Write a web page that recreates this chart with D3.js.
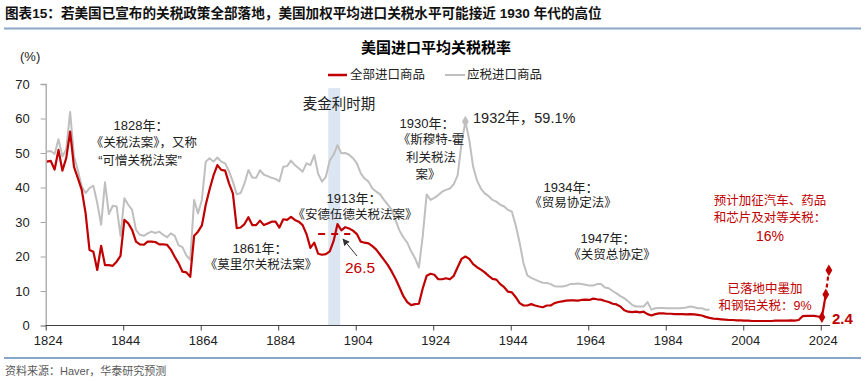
<!DOCTYPE html>
<html><head><meta charset="utf-8">
<script src="https://cdn.jsdelivr.net/npm/d3@7"></script>
<style>
html,body{margin:0;padding:0;background:#fff;}
svg{display:block;}
</style></head>
<body>
<svg id="c" width="865" height="381"></svg>
<script>
// ---------- DATA ----------
const startYear = 1824;
// 全部进口商品 (all imports), 1824..2024
const allImports = [
 47.5,47.7,45.2,50.9,44.9,48.5,56.2,46.0,42.7,39.3,
 32.5,21.9,21.4,16.1,23.1,17.5,17.5,17.3,18.5,20.2,
 30.6,29.6,27.7,24.3,23.5,23.4,24.3,24.3,24.2,23.5,
 23.5,23.4,22.0,19.9,18.0,15.6,15.4,14.1,26.0,27.2,
 29.0,35.0,39.5,43.5,46.5,45.1,44.9,41.2,38.3,28.2,
 28.4,29.4,31.4,29.1,29.1,30.4,29.1,29.6,30.1,30.1,
 28.4,30.8,30.6,31.5,30.6,30.1,29.1,26.5,22.5,24.0,
 20.8,20.5,20.7,21.5,24.5,29.4,27.6,28.5,28.1,27.5,
 26.5,24.3,24.0,23.8,23.0,22.0,20.5,19.0,17.5,15.6,
 13.5,11.0,8.5,6.8,5.9,6.2,6.3,10.8,14.4,15.0,
 14.7,13.4,13.4,13.7,13.4,14.4,16.9,19.3,20.0,19.3,
 17.8,16.9,16.2,15.4,14.4,13.5,13.3,12.0,11.1,9.8,
 9.6,8.2,6.5,5.8,5.8,6.2,5.8,5.5,5.3,5.8,
 5.8,6.5,6.8,7.0,7.2,7.3,7.3,7.2,7.4,7.5,
 7.4,7.8,7.6,7.5,7.1,6.8,6.3,6.1,5.5,4.4,
 4.0,3.9,4.0,3.8,4.0,3.3,2.9,3.3,3.5,3.5,
 3.4,3.4,3.3,3.3,3.3,3.2,3.3,3.2,3.1,2.9,
 2.5,2.2,2.0,1.9,1.8,1.7,1.6,1.6,1.5,1.5,
 1.4,1.4,1.3,1.3,1.3,1.3,1.3,1.3,1.4,1.4,
 1.4,1.4,1.5,1.4,1.6,2.7,2.8,2.8,2.8,2.6,
 2.4
];
// 应税进口商品 (dutiable imports), 1824..1995
const dutiable = [
 50.4,50.6,49.7,54.0,49.0,51.0,61.9,49.0,45.0,40.3,
 38.4,39.8,40.5,35.5,29.2,41.5,32.3,34.7,34.5,26.0,
 36.9,35.0,33.5,27.7,26.3,26.0,26.7,27.2,26.8,27.2,
 26.3,25.6,26.7,26.0,23.2,22.7,20.3,19.0,36.4,32.5,
 36.4,47.5,48.5,47.5,48.7,47.5,47.0,44.7,41.7,38.0,
 38.4,41.2,45.1,42.9,42.8,45.0,43.7,43.3,42.8,42.5,
 41.8,46.0,46.2,47.8,46.5,45.6,44.6,47.0,46.5,49.4,
 44.0,41.7,43.1,47.9,49.5,52.3,49.9,50.0,49.5,48.5,
 47.0,44.1,42.6,41.7,39.7,38.8,38.0,36.4,35.0,33.5,
 30.5,27.5,25.5,24.0,21.5,19.5,16.8,26.0,38.0,36.4,
 37.0,37.8,38.8,39.3,39.7,41.0,43.5,52.8,59.1,53.8,
 46.0,42.0,39.7,38.3,37.5,36.4,35.9,35.0,34.5,33.5,
 33.0,29.0,24.0,18.0,14.5,13.8,13.3,12.8,12.4,12.3,
 12.0,11.4,11.3,11.3,11.5,12.0,12.0,12.2,12.0,11.8,
 11.6,11.6,12.0,12.0,11.0,10.8,10.0,9.3,8.5,7.9,
 7.0,6.0,5.5,5.5,5.5,6.8,4.6,5.0,5.1,5.1,
 5.0,5.0,5.0,5.0,5.1,5.2,5.5,5.3,5.0,5.0,
 4.6,4.6
];
const projYears = [2024, 2025, 2025.8];
const projValues = [2.4, 9, 16];
const mckinley = [1896.9, 1900];
const underwoodLevel = 26.5;
const underwoodSpan = [1894.3, 1902.6];
const peakYear = 1932, peakValue = 59.1;
const yTicks = [0,10,20,30,40,50,60,70];
const xTicks = d3.range(1824, 2025, 20);
const legendLabels = ["全部进口商品","应税进口商品"];

// ---------- SETUP ----------
const svg = d3.select("#c");
const RED = "#c00000", GREY = "#bfbfbf";
const FONT = "'Liberation Sans','Noto Sans CJK SC',sans-serif";
const CJK = "'Liberation Sans','Noto Sans CJK SC',sans-serif";
const x = d3.scaleLinear().domain([1824, 2026]).range([45.7, 828.5]);
const y = d3.scaleLinear().domain([0, 70]).range([325.5, 84]);
const OFF = 0.3;

// header
svg.append("text").attr("x",5).attr("y",13).attr("dominant-baseline","central")
  .attr("font-family",FONT).attr("font-weight","bold").attr("font-size",13.6).attr("fill","#111")
  .text("图表15：若美国已宣布的关税政策全部落地，美国加权平均进口关税水平可能接近 1930 年代的高位");
svg.append("line").attr("x1",4).attr("x2",861).attr("y1",28.5).attr("y2",28.5)
  .attr("stroke","#8aa6c8").attr("stroke-width",2);
svg.append("line").attr("x1",4).attr("x2",861).attr("y1",358).attr("y2",358)
  .attr("stroke","#8aa6c8").attr("stroke-width",2);
svg.append("text").attr("x",5).attr("y",371).attr("dominant-baseline","central")
  .attr("font-family",FONT).attr("font-size",11).attr("fill","#595959")
  .text("资料来源：Haver，华泰研究预测");

// chart title
svg.append("text").attr("x",436).attr("y",47).attr("text-anchor","middle").attr("dominant-baseline","central")
  .attr("font-family",FONT).attr("font-weight","bold").attr("font-size",15).attr("fill","#000")
  .text("美国进口平均关税税率");

// legend
const lg = svg.append("g");
lg.append("line").attr("x1",328).attr("x2",347).attr("y1",75).attr("y2",75).attr("stroke",RED).attr("stroke-width",2.5);
lg.append("text").attr("x",350).attr("y",75).attr("dominant-baseline","central").attr("font-family",CJK).attr("font-size",12.5).attr("fill","#222").text(legendLabels[0]);
lg.append("line").attr("x1",445).attr("x2",465).attr("y1",75).attr("y2",75).attr("stroke",GREY).attr("stroke-width",2);
lg.append("text").attr("x",467).attr("y",75).attr("dominant-baseline","central").attr("font-family",CJK).attr("font-size",12.5).attr("fill","#222").text(legendLabels[1]);

// McKinley band
svg.append("rect").attr("x",x(mckinley[0])).attr("width",x(mckinley[1])-x(mckinley[0]))
  .attr("y",y(68.8)).attr("height",y(0)-y(68.8)).attr("fill","#dce6f2");
svg.append("text").attr("x",339).attr("y",104).attr("text-anchor","middle").attr("dominant-baseline","central")
  .attr("font-family",CJK).attr("font-size",14.5).attr("fill","#222").text("麦金利时期");

// axes
const yAxis = d3.axisLeft(y).tickValues(yTicks).tickSize(5).tickPadding(11);
const gy = svg.append("g").attr("transform",`translate(${x(1824)},0)`).call(yAxis);
gy.select(".domain").attr("stroke","#a6a6a6").attr("stroke-width",1.3);
gy.selectAll(".tick line").attr("stroke","#a6a6a6");
gy.selectAll(".tick text").attr("font-family",FONT).attr("font-size",13).attr("fill","#222");
svg.append("text").attr("x",20).attr("y",56).attr("dominant-baseline","central")
  .attr("font-family",FONT).attr("font-size",13).attr("fill","#222").text("(%)");

const xAxis = d3.axisBottom(x).tickValues(xTicks).tickFormat(d3.format("d")).tickSize(5).tickSizeOuter(0).tickPadding(5);
const gx = svg.append("g").attr("transform",`translate(0,${y(0)})`).call(xAxis);
gx.select(".domain").attr("stroke","#404040").attr("stroke-width",1.2).attr("d",`M${x(1824)},0H830`);
gx.selectAll(".tick line").attr("stroke","#404040");
gx.selectAll(".tick text").attr("font-family",FONT).attr("font-size",13).attr("fill","#222").attr("dx",2);

// lines
const line = d3.line().x(d=>x(d[0]+OFF)).y(d=>y(d[1]));
const redPts = allImports.map((v,i)=>[startYear+i, v]);
const greyPts = dutiable.map((v,i)=>[startYear+i, v]);
svg.append("path").datum(greyPts).attr("d",line).attr("fill","none").attr("stroke",GREY).attr("stroke-width",2).attr("stroke-linejoin","round");
svg.append("path").datum(redPts).attr("d",line).attr("fill","none").attr("stroke",RED).attr("stroke-width",2.2).attr("stroke-linejoin","round");

// projection
const proj = projYears.map((yr,i)=>[yr,projValues[i]]);
svg.append("path").datum(proj.slice(0,2)).attr("d",line).attr("fill","none").attr("stroke",RED).attr("stroke-width",2.2);
svg.append("path").datum(proj.slice(1,3)).attr("d",line).attr("fill","none").attr("stroke",RED).attr("stroke-width",2.2).attr("stroke-dasharray","4,3");
const diamond = d3.symbol().type(d3.symbolDiamond).size(40);
svg.selectAll(".pm").data(proj).join("path").attr("d",diamond)
  .attr("transform",d=>`translate(${x(d[0]+OFF)},${y(d[1])})`).attr("fill",RED);
svg.append("path").attr("d",d3.symbol().type(d3.symbolDiamond).size(40))
  .attr("transform",`translate(${x(peakYear+OFF)},${y(peakValue)})`).attr("fill","#bfbfbf");

// underwood dashed level
svg.append("line").attr("x1",x(underwoodSpan[0])).attr("x2",x(underwoodSpan[1]))
  .attr("y1",y(underwoodLevel)).attr("y2",y(underwoodLevel))
  .attr("stroke",RED).attr("stroke-width",2).attr("stroke-dasharray","7,6");
// arrow
svg.append("defs").append("marker").attr("id","ah").attr("viewBox","0 0 10 10").attr("refX",9).attr("refY",5)
  .attr("markerWidth",7).attr("markerHeight",7).attr("orient","auto")
  .append("path").attr("d","M0,0L10,5L0,10z").attr("fill","#333");
svg.append("line").attr("x1",357).attr("y1",256).attr("x2",343).attr("y2",239)
  .attr("stroke","#333").attr("stroke-width",1).attr("marker-end","url(#ah)");

// annotations
const notes = [
 [141,125,"1828年：","#222",13,"middle"],
 [144,143,"《关税法案》，又称","#222",12.5,"middle"],
 [140,161,"“可憎关税法案”","#222",12.5,"middle"],
 [260,248,"1861年：","#222",13,"middle"],
 [261,265,"《莫里尔关税法案》","#222",12.5,"middle"],
 [354,198,"1913年：","#222",13,"middle"],
 [355,215,"《安德伍德关税法案》","#222",12.5,"middle"],
 [360,267,"26.5","#c00000",15.5,"middle"],
 [427,123,"1930年：","#222",13,"middle"],
 [431,140,"《斯穆特-霍","#222",12.5,"middle"],
 [431,158,"利关税法","#222",12.5,"middle"],
 [428,175,"案》","#222",12.5,"middle"],
 [473,118,"1932年，59.1%","#222",14.5,"start"],
 [571,187,"1934年：","#222",13,"middle"],
 [573,203,"《贸易协定法》","#222",12.5,"middle"],
 [608,238,"1947年：","#222",13,"middle"],
 [612,255,"《关贸总协定》","#222",12.5,"middle"],
 [770,201,"预计加征汽车、药品","#c00000",12.5,"middle"],
 [770,218,"和芯片及对等关税：","#c00000",12.5,"middle"],
 [770,236,"16%","#c00000",14,"middle"],
 [765,289,"已落地中墨加","#c00000",12.5,"middle"],
 [765,306,"和钢铝关税：9%","#c00000",12.5,"middle"]
];
svg.selectAll(".note").data(notes).join("text")
  .attr("x",d=>d[0]).attr("y",d=>d[1]).attr("text-anchor",d=>d[5]).attr("dominant-baseline","central")
  .attr("font-family",CJK).attr("font-size",d=>d[4]).attr("fill",d=>d[3]).text(d=>d[2]);
svg.append("text").attr("x",832).attr("y",318).attr("dominant-baseline","central")
  .attr("font-family",FONT).attr("font-weight","bold").attr("font-size",15).attr("fill",RED).text("2.4");
</script>
</body></html>
